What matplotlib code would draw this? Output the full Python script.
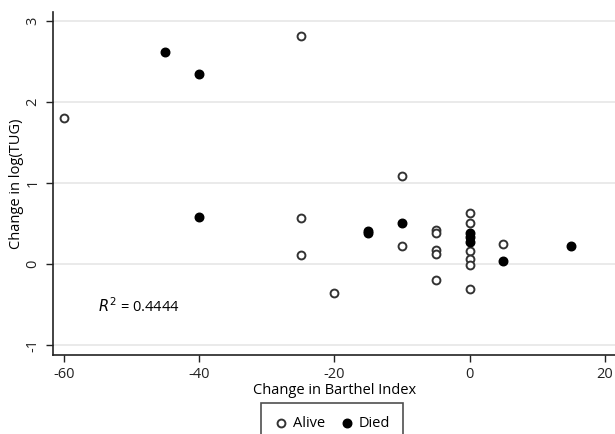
import matplotlib
matplotlib.use("Agg")
import matplotlib.pyplot as plt

alive_x = [-60, -25, -25, -25, -20, -10, -10, -5, -5, -5, -5, -5, 0, 0, 0, 0, 0, 0, 5]
alive_y = [1.81, 2.81, 0.57, 0.11, -0.36, 1.09, 0.23, 0.42, 0.38, 0.17, 0.13, -0.20,
           0.63, 0.51, 0.16, 0.06, -0.01, -0.31, 0.25]
died_x = [-45, -40, -40, -15, -15, -10, 0, 0, 0, 5, 15]
died_y = [2.62, 2.35, 0.58, 0.41, 0.38, 0.51, 0.38, 0.33, 0.28, 0.04, 0.23]

xticks = [-60, -40, -20, 0, 20]
yticks = [-1, 0, 1, 2, 3]
r2_text = "0.4444"

plt.rcParams['font.family'] = ['Open Sans', 'DejaVu Sans']
plt.rcParams['axes.unicode_minus'] = False

fig = plt.figure(figsize=(6.15, 4.34), dpi=100)
ax = fig.add_axes([0.0862, 0.182, 0.915, 0.79])

for y in yticks:
    ax.axhline(y, color='#e6e6e6', lw=1.2, zorder=0)

ax.scatter(alive_x, alive_y, s=32, facecolors='white', edgecolors='#333333',
           linewidths=1.4, zorder=3, label='Alive')
ax.scatter(died_x, died_y, s=38, facecolors='black', edgecolors='black',
           linewidths=1.0, zorder=3, label='Died')

ax.set_xlim(-61.6, 21.6)
ax.set_ylim(-1.12, 3.11)
ax.set_xticks(xticks)
ax.set_yticks(yticks)
ax.set_yticklabels([str(v) for v in yticks], rotation=90, va='center')
ax.tick_params(axis='both', direction='out', length=5, width=1, labelsize=10.5, colors='#222222')
ax.tick_params(axis='y', pad=4)
for s in ['top', 'right']:
    ax.spines[s].set_visible(False)
for s in ['left', 'bottom']:
    ax.spines[s].set_color('#222222')
    ax.spines[s].set_linewidth(1.2)

ax.set_xlabel('Change in Barthel Index', fontsize=10.5, labelpad=1)
ax.set_ylabel('Change in log(TUG)', fontsize=10.5, labelpad=1)

ax.text(-55, -0.52, r'$R^{2}$ = ' + r2_text, fontsize=10.5, va='center', ha='left')

handles, labels = ax.get_legend_handles_labels()
leg = fig.legend(handles, labels, loc='upper center', bbox_to_anchor=(0.54, 0.088),
                 ncol=2, frameon=True, fancybox=False, fontsize=10.5,
                 handletextpad=0.3, columnspacing=1.0, handlelength=1.0,
                 borderpad=0.9, edgecolor='#222222')
leg.get_frame().set_linewidth(1.2)

fig.savefig('out.png', dpi=100)
